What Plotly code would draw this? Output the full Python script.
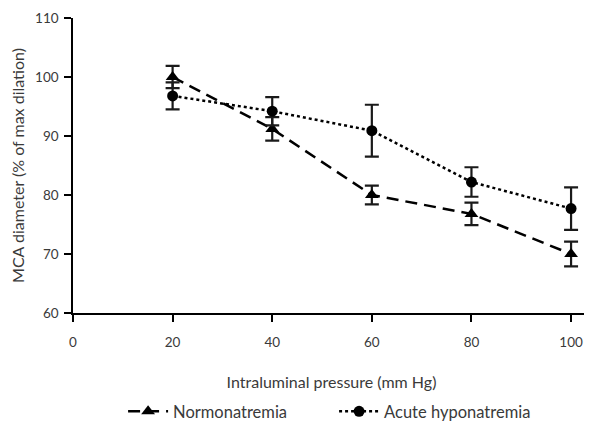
import plotly.graph_objects as go

pressure = [20, 40, 60, 80, 100]
normo_vals = [100.0, 91.2, 80.0, 76.8, 70.0]
normo_err = [1.9, 2.0, 1.6, 1.9, 2.1]
hypo_vals = [96.8, 94.2, 90.9, 82.2, 77.7]
hypo_err = [2.3, 2.4, 4.4, 2.5, 3.6]
x_ticks = [0, 20, 40, 60, 80, 100]
y_ticks = [60, 70, 80, 90, 100, 110]

family = "Lato, Noto Sans, sans-serif"
font = dict(family=family, size=13.5, color="#3a3a3a")
legend_font = dict(family=family, size=16.5, color="#3a3a3a")

fig = go.Figure()
fig.add_trace(go.Scatter(
    x=pressure, y=normo_vals, name="Normonatremia", mode="lines+markers",
    line=dict(color="black", width=2.5, dash="12px,7px"),
    marker=dict(symbol="triangle-up", size=12, color="black"),
    error_y=dict(type="data", array=normo_err, visible=True, color="#1a1a1a", thickness=2.2, width=7),
))
fig.add_trace(go.Scatter(
    x=pressure, y=hypo_vals, name="Acute hyponatremia", mode="lines+markers",
    line=dict(color="black", width=2.5, dash="3px,3px"),
    marker=dict(symbol="circle", size=11, color="black"),
    error_y=dict(type="data", array=hypo_err, visible=True, color="#1a1a1a", thickness=2.2, width=7),
))

fig.update_layout(
    width=584, height=418,
    margin=dict(l=65, r=2, t=10, b=113, autoexpand=False),
    plot_bgcolor="white", paper_bgcolor="white",
    font=font,
    showlegend=True,
    legend=dict(orientation="h", x=0.505, xanchor="center", y=-0.275, yanchor="top",
                font=legend_font, itemwidth=40, tracegroupgap=0,
                entrywidth=156, entrywidthmode="pixels"),
)
fig.update_xaxes(
    range=[0, 103.8], tickvals=x_ticks, showgrid=False, zeroline=False, automargin=False,
    showline=True, linecolor="black", linewidth=1.5,
    ticks="outside", ticklen=7, tickwidth=1.5, tickcolor="black",
    ticklabelstandoff=9,
    title=dict(text="Intraluminal pressure (mm Hg)", standoff=28),
)
fig.update_yaxes(
    range=[60, 110], tickvals=y_ticks, showgrid=False, zeroline=False, automargin=False,
    showline=True, linecolor="black", linewidth=1.5,
    ticks="outside", ticklen=7, tickwidth=1.5, tickcolor="black",
    ticklabelstandoff=3,
    title=dict(text="MCA diameter (% of max dilation)", standoff=7),
)

fig.write_html("out.html")
